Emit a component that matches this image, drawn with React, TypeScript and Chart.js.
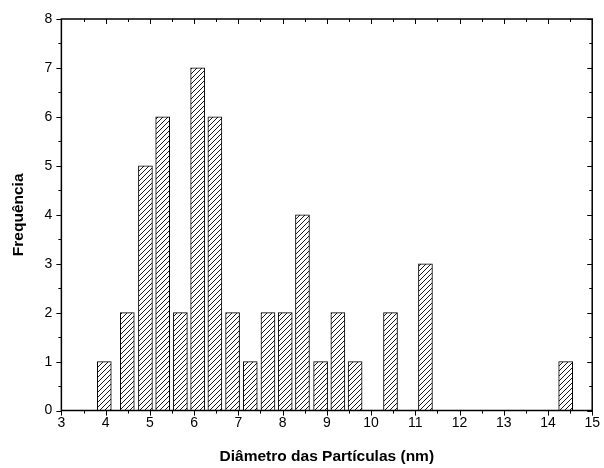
import React, { useEffect, useRef } from "react";
import { Chart, registerables } from "chart.js";

Chart.register(...registerables);

const binCenters = [3.97, 4.49, 4.9, 5.29, 5.69, 6.08, 6.47, 6.87, 7.27, 7.67, 8.06, 8.45, 8.86, 9.25, 9.64, 10.44, 11.23, 14.4];
const counts = [1, 2, 5, 6, 2, 7, 6, 2, 1, 2, 2, 4, 1, 2, 1, 2, 3, 1];
const xTitle = "Diâmetro das Partículas (nm)";
const yTitle = "Frequência";

const FONT = "'Liberation Sans', Arial, sans-serif";

function makeHatch(): CanvasPattern | string {
  const c = document.createElement("canvas");
  c.width = 5;
  c.height = 5;
  const g = c.getContext("2d");
  if (!g) return "#fff";
  g.fillStyle = "#fff";
  g.fillRect(0, 0, 5, 5);
  g.strokeStyle = "#000";
  g.lineWidth = 0.9;
  g.beginPath();
  g.moveTo(-1, 6);
  g.lineTo(6, -1);
  g.moveTo(-1, 1);
  g.lineTo(1, -1);
  g.moveTo(4, 6);
  g.lineTo(6, 4);
  g.stroke();
  const p = g.createPattern(c, "repeat");
  return p || "#fff";
}

const framePlugin = {
  id: "frame",
  afterDraw(chart: any) {
    const { ctx, chartArea } = chart;
    const xs = chart.scales.x;
    const ys = chart.scales.y;
    const { left, right, top, bottom } = chartArea;
    ctx.save();
    ctx.strokeStyle = "#000";
    ctx.lineWidth = 1.5;
    ctx.beginPath();
    ctx.rect(left, top, right - left, bottom - top);
    ctx.stroke();
    ctx.lineWidth = 1;
    ctx.beginPath();
    for (let v = 3; v <= 15.001; v += 0.5) {
      const px = Math.round(xs.getPixelForValue(v)) + 0.5;
      const major = Math.abs(v - Math.round(v)) < 1e-6;
      const len = major ? 5 : 3;
      ctx.moveTo(px, bottom);
      ctx.lineTo(px, bottom + len);
      ctx.moveTo(px, top);
      ctx.lineTo(px, top + len);
    }
    for (let v = 0; v <= 8.001; v += 0.5) {
      const py = Math.round(ys.getPixelForValue(v)) + 0.5;
      const major = Math.abs(v - Math.round(v)) < 1e-6;
      const len = major ? 5 : 3;
      ctx.moveTo(left, py);
      ctx.lineTo(left - len, py);
      ctx.moveTo(right, py);
      ctx.lineTo(right - len, py);
    }
    ctx.stroke();
    ctx.restore();
  },
};

export default function App() {
  const ref = useRef<HTMLCanvasElement | null>(null);
  useEffect(() => {
    if (!ref.current) return;
    const hatch = makeHatch();
    const chart = new Chart(ref.current, {
      type: "bar",
      data: {
        datasets: [
          {
            data: binCenters.map((x, i) => ({ x, y: counts[i] })),
            backgroundColor: hatch as any,
            borderColor: "#000",
            borderWidth: 1,
            barThickness: 14,
          },
        ],
      },
      options: {
        animation: false,
        responsive: false,
        maintainAspectRatio: false,
        layout: { padding: { top: 19, right: 3, left: 8, bottom: 0 } },
        plugins: { legend: { display: false }, tooltip: { enabled: false } },
        scales: {
          x: {
            type: "linear",
            min: 3,
            max: 15,
            offset: false,
            grid: { display: false, drawTicks: false },
            border: { display: false },
            ticks: {
              stepSize: 1,
              padding: 4,
              color: "#000",
              font: { family: FONT, size: 14 },
              maxRotation: 0,
            },
            title: {
              display: true,
              text: xTitle,
              color: "#000",
              font: { family: FONT, size: 15.5, weight: "bold" },
              padding: { top: 12, bottom: 2 },
            },
          },
          y: {
            type: "linear",
            min: 0,
            max: 8,
            grid: { display: false, drawTicks: false },
            border: { display: false },
            ticks: {
              stepSize: 1,
              padding: 9,
              color: "#000",
              font: { family: FONT, size: 14 },
            },
            title: {
              display: true,
              text: yTitle,
              color: "#000",
              font: { family: FONT, size: 15.5, weight: "bold" },
              padding: { top: 1, bottom: 8 },
            },
          },
        },
      },
      plugins: [framePlugin],
    });
    return () => chart.destroy();
  }, []);
  return (
    <div style={{ position: "absolute", left: 0, top: 0, width: 604, height: 468, background: "#fff" }}>
      <canvas ref={ref} width={604} height={468} style={{ display: "block" }} />
    </div>
  );
}
